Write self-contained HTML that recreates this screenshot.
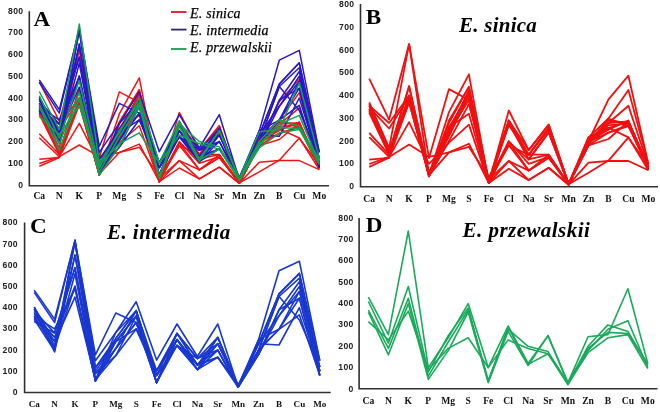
<!DOCTYPE html>
<html><head><meta charset="utf-8"><style>
html,body{margin:0;padding:0;background:#fff;}
body{width:660px;height:412px;overflow:hidden;}
svg{display:block;filter:blur(0.3px);}
.tk{font-family:"Liberation Sans",sans-serif;font-weight:bold;font-size:8.6px;letter-spacing:0.3px;text-anchor:end;fill:#222;}
.cat{font-family:"Liberation Serif",serif;font-weight:bold;font-size:9.6px;text-anchor:middle;fill:#111;}
.let{font-family:"Liberation Serif",serif;font-weight:bold;font-size:21px;fill:#000;}
.ttl{font-family:"Liberation Serif",serif;font-weight:bold;font-style:italic;font-size:21px;letter-spacing:0.45px;fill:#000;}
.ttl1{letter-spacing:0.25px;}
.catc{font-size:9.1px;}
.leg{font-family:"Liberation Serif",serif;font-style:italic;font-size:14px;letter-spacing:0.2px;fill:#000;stroke:#000;stroke-width:0.25px;}
</style></head><body>
<svg width="660" height="412" viewBox="0 0 660 412">
<text class="tk" x="23.3" y="187.5">0</text>
<text class="tk" x="23.3" y="165.8">100</text>
<text class="tk" x="23.3" y="144.0">200</text>
<text class="tk" x="23.3" y="122.2">300</text>
<text class="tk" x="23.3" y="100.5">400</text>
<text class="tk" x="23.3" y="78.8">500</text>
<text class="tk" x="23.3" y="57.0">600</text>
<text class="tk" x="23.3" y="35.2">700</text>
<text class="tk" x="23.3" y="13.5">800</text>
<text class="cat" x="39.3" y="199.4">Ca</text>
<text class="cat" x="59.3" y="199.4">N</text>
<text class="cat" x="79.3" y="199.4">K</text>
<text class="cat" x="99.3" y="199.4">P</text>
<text class="cat" x="119.3" y="199.4">Mg</text>
<text class="cat" x="139.3" y="199.4">S</text>
<text class="cat" x="159.3" y="199.4">Fe</text>
<text class="cat" x="179.3" y="199.4">Cl</text>
<text class="cat" x="199.3" y="199.4">Na</text>
<text class="cat" x="219.3" y="199.4">Sr</text>
<text class="cat" x="239.3" y="199.4">Mn</text>
<text class="cat" x="259.3" y="199.4">Zn</text>
<text class="cat" x="279.3" y="199.4">B</text>
<text class="cat" x="299.3" y="199.4">Cu</text>
<text class="cat" x="319.3" y="199.4">Mo</text>
<polyline fill="none" stroke="#f01414" stroke-width="1.5" stroke-linejoin="round" points="39.3,81.9 59.3,121.1 79.3,48.8 99.3,157.8 119.3,91.9 139.3,102.3 159.3,178.5 179.3,121.9 199.3,154.6 219.3,128.9 239.3,182.0 259.3,141.5 279.3,101.7 299.3,79.1 319.3,163.7"/>
<polyline fill="none" stroke="#f01414" stroke-width="1.5" stroke-linejoin="round" points="39.3,104.5 59.3,148.0 79.3,48.8 99.3,174.1 119.3,113.9 139.3,77.8 159.3,181.7 179.3,112.4 199.3,150.2 219.3,125.8 239.3,182.8 259.3,138.0 279.3,120.0 299.3,92.8 319.3,163.7"/>
<polyline fill="none" stroke="#f01414" stroke-width="1.5" stroke-linejoin="round" points="39.3,106.3 59.3,152.4 79.3,89.1 99.3,175.2 119.3,121.9 139.3,89.7 159.3,181.7 179.3,124.5 199.3,154.6 219.3,128.9 239.3,182.8 259.3,142.4 279.3,124.3 299.3,107.8 319.3,165.4"/>
<polyline fill="none" stroke="#f01414" stroke-width="1.5" stroke-linejoin="round" points="39.3,107.8 59.3,124.3 79.3,98.0 99.3,173.0 119.3,128.4 139.3,97.3 159.3,180.7 179.3,121.9 199.3,159.1 219.3,133.2 239.3,183.3 259.3,143.7 279.3,128.9 299.3,122.8 319.3,165.4"/>
<polyline fill="none" stroke="#f01414" stroke-width="1.5" stroke-linejoin="round" points="39.3,109.3 59.3,129.5 79.3,99.1 99.3,171.9 119.3,132.8 139.3,93.7 159.3,181.7 179.3,124.5 199.3,159.1 219.3,133.2 239.3,183.3 259.3,145.6 279.3,133.5 299.3,126.3 319.3,167.6"/>
<polyline fill="none" stroke="#f01414" stroke-width="1.5" stroke-linejoin="round" points="39.3,111.0 59.3,151.3 79.3,101.3 99.3,174.1 119.3,137.2 139.3,97.3 159.3,181.7 179.3,142.6 199.3,169.8 219.3,154.6 239.3,182.8 259.3,145.6 279.3,139.5 299.3,122.8 319.3,166.5"/>
<polyline fill="none" stroke="#f01414" stroke-width="1.5" stroke-linejoin="round" points="39.3,112.8 59.3,153.5 79.3,104.5 99.3,175.2 119.3,141.5 139.3,106.3 159.3,180.7 179.3,145.6 199.3,169.8 219.3,157.6 239.3,182.8 259.3,142.4 279.3,133.5 299.3,127.4 319.3,167.6"/>
<polyline fill="none" stroke="#f01414" stroke-width="1.5" stroke-linejoin="round" points="39.3,133.7 59.3,154.6 79.3,99.1 99.3,173.0 119.3,128.4 139.3,115.4 159.3,181.7 179.3,142.6 199.3,159.1 219.3,154.6 239.3,183.3 259.3,138.0 279.3,128.9 299.3,138.0 319.3,169.6"/>
<polyline fill="none" stroke="#f01414" stroke-width="1.5" stroke-linejoin="round" points="39.3,137.8 59.3,156.7 79.3,123.4 99.3,163.2 119.3,143.0 139.3,125.8 159.3,181.7 179.3,160.6 199.3,178.9 219.3,167.2 239.3,183.3 259.3,162.2 279.3,160.6 299.3,160.6 319.3,169.6"/>
<polyline fill="none" stroke="#f01414" stroke-width="1.5" stroke-linejoin="round" points="39.3,159.3 59.3,157.6 79.3,98.0 99.3,175.2 119.3,124.1 139.3,89.7 159.3,178.5 179.3,160.6 199.3,169.8 219.3,157.6 239.3,182.8 259.3,171.9 279.3,160.2 299.3,138.0 319.3,165.4"/>
<polyline fill="none" stroke="#f01414" stroke-width="1.5" stroke-linejoin="round" points="39.3,163.5 59.3,156.7 79.3,145.0 99.3,156.7 119.3,152.4 139.3,144.1 159.3,181.7 179.3,168.0 199.3,178.9 219.3,167.2 239.3,183.3 259.3,145.6 279.3,120.0 299.3,127.4 319.3,163.7"/>
<polyline fill="none" stroke="#f01414" stroke-width="1.5" stroke-linejoin="round" points="39.3,166.3 59.3,157.6 79.3,104.5 99.3,174.1 119.3,152.4 139.3,147.2 159.3,176.3 179.3,145.6 199.3,154.6 219.3,154.6 239.3,183.3 259.3,142.4 279.3,124.3 299.3,122.8 319.3,167.6"/>
<polyline fill="none" stroke="#f01414" stroke-width="1.5" stroke-linejoin="round" points="39.3,107.8 59.3,152.4 79.3,89.1 99.3,171.9 119.3,132.8 139.3,102.3 159.3,181.7 179.3,121.9 199.3,150.2 219.3,125.8 239.3,182.8 259.3,141.5 279.3,121.9 299.3,124.1 319.3,166.5"/>
<polyline fill="none" stroke="#f01414" stroke-width="1.5" stroke-linejoin="round" points="39.3,111.0 59.3,152.4 79.3,99.1 99.3,174.1 119.3,130.6 139.3,93.7 159.3,181.7 179.3,126.3 199.3,154.6 219.3,130.6 239.3,182.8 259.3,143.7 279.3,126.3 299.3,125.2 319.3,166.5"/>
<polyline fill="none" stroke="#f01414" stroke-width="1.5" stroke-linejoin="round" points="39.3,114.3 59.3,154.6 79.3,102.3 99.3,175.2 119.3,135.0 139.3,98.0 159.3,180.7 179.3,141.5 199.3,163.2 219.3,156.7 239.3,183.3 259.3,141.5 279.3,130.6 299.3,121.9 319.3,168.7"/>
<polyline fill="none" stroke="#2818c8" stroke-width="1.5" stroke-linejoin="round" points="39.3,79.9 59.3,109.7 79.3,29.5 99.3,146.3 119.3,103.4 139.3,113.2 159.3,162.8 179.3,124.3 199.3,150.2 219.3,135.0 239.3,177.8 259.3,130.6 279.3,60.2 299.3,50.4 319.3,152.4"/>
<polyline fill="none" stroke="#2818c8" stroke-width="1.5" stroke-linejoin="round" points="39.3,82.3 59.3,113.2 79.3,28.4 99.3,152.4 119.3,123.4 139.3,91.9 159.3,151.7 179.3,114.7 199.3,148.0 219.3,114.7 239.3,179.6 259.3,135.0 279.3,83.9 299.3,62.8 319.3,158.9"/>
<polyline fill="none" stroke="#2818c8" stroke-width="1.5" stroke-linejoin="round" points="39.3,97.3 59.3,137.2 79.3,30.6 99.3,159.6 119.3,129.5 139.3,101.0 159.3,167.6 179.3,124.3 199.3,156.7 219.3,128.4 239.3,179.6 259.3,141.5 279.3,86.5 299.3,67.8 319.3,163.2"/>
<polyline fill="none" stroke="#2818c8" stroke-width="1.5" stroke-linejoin="round" points="39.3,99.1 59.3,143.5 79.3,44.1 99.3,163.2 119.3,132.8 139.3,106.5 159.3,175.0 179.3,130.6 199.3,161.5 219.3,135.0 239.3,177.8 259.3,145.8 279.3,100.2 299.3,71.5 319.3,167.6"/>
<polyline fill="none" stroke="#2818c8" stroke-width="1.5" stroke-linejoin="round" points="39.3,100.8 59.3,124.1 79.3,57.1 99.3,165.6 119.3,139.8 139.3,113.2 159.3,175.0 179.3,130.6 199.3,156.7 219.3,141.5 239.3,179.6 259.3,135.0 279.3,106.3 299.3,76.2 319.3,163.2"/>
<polyline fill="none" stroke="#2818c8" stroke-width="1.5" stroke-linejoin="round" points="39.3,102.8 59.3,139.5 79.3,63.2 99.3,171.9 119.3,147.2 139.3,119.8 159.3,167.6 179.3,136.7 199.3,161.5 219.3,148.9 239.3,177.8 259.3,141.5 279.3,120.2 299.3,81.3 319.3,158.9"/>
<polyline fill="none" stroke="#2818c8" stroke-width="1.5" stroke-linejoin="round" points="39.3,104.7 59.3,128.4 79.3,76.0 99.3,173.3 119.3,129.5 139.3,101.0 159.3,162.8 179.3,124.3 199.3,150.2 219.3,128.4 239.3,179.6 259.3,145.8 279.3,100.2 299.3,88.2 319.3,167.6"/>
<polyline fill="none" stroke="#2818c8" stroke-width="1.5" stroke-linejoin="round" points="39.3,106.7 59.3,119.8 79.3,78.4 99.3,173.3 119.3,132.8 139.3,106.5 159.3,175.0 179.3,130.6 199.3,156.7 219.3,135.0 239.3,177.8 259.3,135.0 279.3,136.3 299.3,98.0 319.3,163.2"/>
<polyline fill="none" stroke="#2818c8" stroke-width="1.5" stroke-linejoin="round" points="39.3,108.4 59.3,132.8 79.3,87.1 99.3,171.9 119.3,123.4 139.3,101.0 159.3,167.6 179.3,136.7 199.3,161.5 219.3,141.5 239.3,179.6 259.3,130.6 279.3,120.2 299.3,105.4 319.3,167.6"/>
<polyline fill="none" stroke="#2818c8" stroke-width="1.5" stroke-linejoin="round" points="39.3,110.0 59.3,142.2 79.3,29.5 99.3,173.3 119.3,139.8 139.3,113.2 159.3,175.0 179.3,124.3 199.3,156.7 219.3,148.9 239.3,177.8 259.3,141.5 279.3,86.5 299.3,110.6 319.3,158.9"/>
<polyline fill="none" stroke="#2818c8" stroke-width="1.5" stroke-linejoin="round" points="39.3,112.1 59.3,124.1 79.3,57.1 99.3,165.6 119.3,147.2 139.3,106.5 159.3,167.6 179.3,136.7 199.3,150.2 219.3,141.5 239.3,179.6 259.3,145.8 279.3,106.3 299.3,81.3 319.3,163.2"/>
<polyline fill="none" stroke="#2818c8" stroke-width="1.5" stroke-linejoin="round" points="39.3,97.3 59.3,132.8 79.3,44.1 99.3,159.6 119.3,132.8 139.3,119.8 159.3,162.8 179.3,130.6 199.3,161.5 219.3,128.4 239.3,177.8 259.3,135.0 279.3,83.9 299.3,62.8 319.3,152.4"/>
<polyline fill="none" stroke="#2818c8" stroke-width="1.5" stroke-linejoin="round" points="39.3,106.7 59.3,139.5 79.3,76.0 99.3,171.9 119.3,139.8 139.3,101.0 159.3,175.0 179.3,136.7 199.3,156.7 219.3,148.9 239.3,179.6 259.3,141.5 279.3,120.2 299.3,88.2 319.3,167.6"/>
<polyline fill="none" stroke="#16a050" stroke-width="1.5" stroke-linejoin="round" points="39.3,91.5 59.3,129.5 79.3,24.1 99.3,163.2 119.3,132.8 139.3,98.0 159.3,163.2 179.3,120.8 199.3,158.9 219.3,130.6 239.3,178.5 259.3,131.7 279.3,129.5 299.3,82.8 319.3,158.9"/>
<polyline fill="none" stroke="#16a050" stroke-width="1.5" stroke-linejoin="round" points="39.3,95.8 59.3,138.2 79.3,80.6 99.3,167.6 119.3,130.6 139.3,102.3 159.3,176.3 179.3,124.1 199.3,141.5 219.3,146.9 239.3,179.6 259.3,141.5 279.3,119.8 299.3,126.3 319.3,161.1"/>
<polyline fill="none" stroke="#16a050" stroke-width="1.5" stroke-linejoin="round" points="39.3,104.5 59.3,143.7 79.3,92.6 99.3,171.9 119.3,137.2 139.3,104.5 159.3,177.4 179.3,121.9 199.3,160.0 219.3,149.1 239.3,180.7 259.3,145.8 279.3,124.1 299.3,115.4 319.3,163.2"/>
<polyline fill="none" stroke="#16a050" stroke-width="1.5" stroke-linejoin="round" points="39.3,106.7 59.3,150.2 79.3,98.0 99.3,175.2 119.3,145.8 139.3,106.7 159.3,178.5 179.3,126.3 199.3,161.1 219.3,130.6 239.3,179.6 259.3,148.0 279.3,132.8 299.3,129.5 319.3,164.3"/>
<polyline fill="none" stroke="#16a050" stroke-width="1.5" stroke-linejoin="round" points="39.3,116.5 59.3,135.0 79.3,105.6 99.3,165.4 119.3,143.7 139.3,132.8 159.3,163.2 179.3,135.0 199.3,143.7 219.3,149.1 239.3,178.5 259.3,143.7 279.3,127.4 299.3,128.4 319.3,158.9"/>
<path d="M29.3,11.2 V185.8 H329.0" fill="none" stroke="#303030" stroke-width="1.6"/>
<text class="let" transform="translate(33.6,26.2) scale(1.1,1)">A</text>
<text class="tk" x="354.3" y="189.0">0</text>
<text class="tk" x="354.3" y="166.2">100</text>
<text class="tk" x="354.3" y="143.5">200</text>
<text class="tk" x="354.3" y="120.8">300</text>
<text class="tk" x="354.3" y="98.0">400</text>
<text class="tk" x="354.3" y="75.2">500</text>
<text class="tk" x="354.3" y="52.5">600</text>
<text class="tk" x="354.3" y="29.8">700</text>
<text class="tk" x="354.3" y="7.0">800</text>
<text class="cat" x="369.2" y="201.9">Ca</text>
<text class="cat" x="389.1" y="201.9">N</text>
<text class="cat" x="409.1" y="201.9">K</text>
<text class="cat" x="429.0" y="201.9">P</text>
<text class="cat" x="449.0" y="201.9">Mg</text>
<text class="cat" x="468.9" y="201.9">S</text>
<text class="cat" x="488.8" y="201.9">Fe</text>
<text class="cat" x="508.8" y="201.9">Cl</text>
<text class="cat" x="528.7" y="201.9">Na</text>
<text class="cat" x="548.7" y="201.9">Sr</text>
<text class="cat" x="568.6" y="201.9">Mn</text>
<text class="cat" x="588.5" y="201.9">Zn</text>
<text class="cat" x="608.5" y="201.9">B</text>
<text class="cat" x="628.4" y="201.9">Cu</text>
<text class="cat" x="648.4" y="201.9">Mo</text>
<polyline fill="none" stroke="#f01010" stroke-width="1.8" stroke-linejoin="round" points="369.2,78.7 389.1,119.6 409.1,44.1 429.0,158.1 449.0,89.1 468.9,100.0 488.8,179.7 508.8,120.5 528.7,154.7 548.7,127.8 568.6,183.3 588.5,141.0 608.5,99.4 628.4,75.7 648.4,164.2"/>
<polyline fill="none" stroke="#f01010" stroke-width="1.8" stroke-linejoin="round" points="369.2,102.3 389.1,147.8 409.1,44.1 429.0,175.1 449.0,112.1 468.9,74.3 488.8,183.1 508.8,110.5 528.7,150.1 548.7,124.6 568.6,184.2 588.5,137.4 608.5,118.5 628.4,90.0 648.4,164.2"/>
<polyline fill="none" stroke="#f01010" stroke-width="1.8" stroke-linejoin="round" points="369.2,104.1 389.1,152.4 409.1,86.2 429.0,176.3 449.0,120.5 468.9,86.9 488.8,183.1 508.8,123.3 528.7,154.7 548.7,127.8 568.6,184.2 588.5,141.9 608.5,123.0 628.4,105.7 648.4,166.0"/>
<polyline fill="none" stroke="#f01010" stroke-width="1.8" stroke-linejoin="round" points="369.2,105.7 389.1,123.0 409.1,95.5 429.0,174.0 449.0,127.3 468.9,94.8 488.8,181.9 508.8,120.5 528.7,159.4 548.7,132.4 568.6,184.7 588.5,143.3 608.5,127.8 628.4,121.4 648.4,166.0"/>
<polyline fill="none" stroke="#f01010" stroke-width="1.8" stroke-linejoin="round" points="369.2,107.3 389.1,128.5 409.1,96.6 429.0,172.8 449.0,131.9 468.9,91.0 488.8,183.1 508.8,123.3 528.7,159.4 548.7,132.4 568.6,184.7 588.5,145.3 608.5,132.6 628.4,125.1 648.4,168.3"/>
<polyline fill="none" stroke="#f01010" stroke-width="1.8" stroke-linejoin="round" points="369.2,109.1 389.1,151.2 409.1,98.9 429.0,175.1 449.0,136.4 468.9,94.8 488.8,183.1 508.8,142.1 528.7,170.6 548.7,154.7 568.6,184.2 588.5,145.3 608.5,139.0 628.4,121.4 648.4,167.2"/>
<polyline fill="none" stroke="#f01010" stroke-width="1.8" stroke-linejoin="round" points="369.2,111.0 389.1,153.5 409.1,102.3 429.0,176.3 449.0,141.0 468.9,104.1 488.8,181.9 508.8,145.3 528.7,170.6 548.7,157.8 568.6,184.2 588.5,141.9 608.5,132.6 628.4,126.2 648.4,168.3"/>
<polyline fill="none" stroke="#f01010" stroke-width="1.8" stroke-linejoin="round" points="369.2,132.8 389.1,154.7 409.1,96.6 429.0,174.0 449.0,127.3 468.9,113.7 488.8,183.1 508.8,142.1 528.7,159.4 548.7,154.7 568.6,184.7 588.5,137.4 608.5,127.8 628.4,137.4 648.4,170.3"/>
<polyline fill="none" stroke="#f01010" stroke-width="1.8" stroke-linejoin="round" points="369.2,137.1 389.1,156.9 409.1,122.1 429.0,163.8 449.0,142.6 468.9,124.6 488.8,183.1 508.8,161.0 528.7,180.1 548.7,167.8 568.6,184.7 588.5,162.6 608.5,161.0 628.4,161.0 648.4,170.3"/>
<polyline fill="none" stroke="#f01010" stroke-width="1.8" stroke-linejoin="round" points="369.2,159.7 389.1,157.8 409.1,95.5 429.0,176.3 449.0,122.8 468.9,86.9 488.8,179.7 508.8,161.0 528.7,170.6 548.7,157.8 568.6,184.2 588.5,172.8 608.5,160.6 628.4,137.4 648.4,166.0"/>
<polyline fill="none" stroke="#f01010" stroke-width="1.8" stroke-linejoin="round" points="369.2,164.0 389.1,156.9 409.1,144.6 429.0,156.9 449.0,152.4 468.9,143.7 488.8,183.1 508.8,168.8 528.7,180.1 548.7,167.8 568.6,184.7 588.5,145.3 608.5,118.5 628.4,126.2 648.4,164.2"/>
<polyline fill="none" stroke="#f01010" stroke-width="1.8" stroke-linejoin="round" points="369.2,166.9 389.1,157.8 409.1,102.3 429.0,175.1 449.0,152.4 468.9,146.9 488.8,177.4 508.8,145.3 528.7,154.7 548.7,154.7 568.6,184.7 588.5,141.9 608.5,123.0 628.4,121.4 648.4,168.3"/>
<polyline fill="none" stroke="#f01010" stroke-width="1.8" stroke-linejoin="round" points="369.2,105.7 389.1,152.4 409.1,86.2 429.0,172.8 449.0,131.9 468.9,100.0 488.8,183.1 508.8,120.5 528.7,150.1 548.7,124.6 568.6,184.2 588.5,141.0 608.5,120.5 628.4,122.8 648.4,167.2"/>
<polyline fill="none" stroke="#f01010" stroke-width="1.8" stroke-linejoin="round" points="369.2,109.1 389.1,152.4 409.1,96.6 429.0,175.1 449.0,129.6 468.9,91.0 488.8,183.1 508.8,125.1 528.7,154.7 548.7,129.6 568.6,184.2 588.5,143.3 608.5,125.1 628.4,123.9 648.4,167.2"/>
<polyline fill="none" stroke="#f01010" stroke-width="1.8" stroke-linejoin="round" points="369.2,112.6 389.1,154.7 409.1,100.0 429.0,176.3 449.0,134.2 468.9,95.5 488.8,181.9 508.8,141.0 528.7,163.8 548.7,156.9 568.6,184.7 588.5,141.0 608.5,129.6 628.4,120.5 648.4,169.4"/>
<path d="M360.5,4.0 V186.8 H658.0" fill="none" stroke="#303030" stroke-width="1.6"/>
<text class="let" transform="translate(365.8,23.8) scale(1.1,1)">B</text>
<text class="ttl ttl1" x="459" y="31.9">E. sinica</text>
<text class="tk" x="17.8" y="395.0">0</text>
<text class="tk" x="17.8" y="373.8">100</text>
<text class="tk" x="17.8" y="352.6">200</text>
<text class="tk" x="17.8" y="331.4">300</text>
<text class="tk" x="17.8" y="310.2">400</text>
<text class="tk" x="17.8" y="289.0">500</text>
<text class="tk" x="17.8" y="267.8">600</text>
<text class="tk" x="17.8" y="246.6">700</text>
<text class="tk" x="17.8" y="225.4">800</text>
<text class="cat catc" x="34.2" y="406.9">Ca</text>
<text class="cat catc" x="54.6" y="406.9">N</text>
<text class="cat catc" x="75.0" y="406.9">K</text>
<text class="cat catc" x="95.4" y="406.9">P</text>
<text class="cat catc" x="115.8" y="406.9">Mg</text>
<text class="cat catc" x="136.2" y="406.9">S</text>
<text class="cat catc" x="156.6" y="406.9">Fe</text>
<text class="cat catc" x="177.0" y="406.9">Cl</text>
<text class="cat catc" x="197.4" y="406.9">Na</text>
<text class="cat catc" x="217.8" y="406.9">Sr</text>
<text class="cat catc" x="238.2" y="406.9">Mn</text>
<text class="cat catc" x="258.6" y="406.9">Zn</text>
<text class="cat catc" x="279.0" y="406.9">B</text>
<text class="cat catc" x="299.4" y="406.9">Cu</text>
<text class="cat catc" x="319.8" y="406.9">Mo</text>
<polyline fill="none" stroke="#1838d0" stroke-width="1.6" stroke-linejoin="round" points="34.2,290.1 54.6,319.1 75.0,240.9 95.4,354.8 115.8,313.0 136.2,322.5 156.6,370.9 177.0,333.4 197.4,358.6 217.8,343.7 238.2,385.5 258.6,339.5 279.0,270.8 299.4,261.3 319.8,360.7"/>
<polyline fill="none" stroke="#1838d0" stroke-width="1.6" stroke-linejoin="round" points="34.2,292.4 54.6,322.5 75.0,239.9 95.4,360.7 115.8,332.5 136.2,301.8 156.6,360.1 177.0,324.0 197.4,356.5 217.8,324.0 238.2,387.2 258.6,343.7 279.0,293.9 299.4,273.4 319.8,367.1"/>
<polyline fill="none" stroke="#1838d0" stroke-width="1.6" stroke-linejoin="round" points="34.2,307.1 54.6,345.9 75.0,242.0 95.4,367.7 115.8,338.4 136.2,310.7 156.6,375.5 177.0,333.4 197.4,364.9 217.8,337.4 238.2,387.2 258.6,350.1 279.0,296.5 299.4,278.2 319.8,371.3"/>
<polyline fill="none" stroke="#1838d0" stroke-width="1.6" stroke-linejoin="round" points="34.2,308.8 54.6,352.0 75.0,255.1 95.4,371.3 115.8,341.6 136.2,316.0 156.6,382.7 177.0,339.5 197.4,369.6 217.8,343.7 238.2,385.5 258.6,354.3 279.0,309.8 299.4,281.8 319.8,375.5"/>
<polyline fill="none" stroke="#1838d0" stroke-width="1.6" stroke-linejoin="round" points="34.2,310.5 54.6,333.1 75.0,267.8 95.4,373.6 115.8,348.4 136.2,322.5 156.6,382.7 177.0,339.5 197.4,364.9 217.8,350.1 238.2,387.2 258.6,343.7 279.0,315.8 299.4,286.5 319.8,371.3"/>
<polyline fill="none" stroke="#1838d0" stroke-width="1.6" stroke-linejoin="round" points="34.2,312.4 54.6,348.2 75.0,273.8 95.4,379.8 115.8,355.6 136.2,328.9 156.6,375.5 177.0,345.4 197.4,369.6 217.8,357.3 238.2,385.5 258.6,350.1 279.0,329.3 299.4,291.4 319.8,367.1"/>
<polyline fill="none" stroke="#1838d0" stroke-width="1.6" stroke-linejoin="round" points="34.2,314.3 54.6,337.4 75.0,286.3 95.4,381.1 115.8,338.4 136.2,310.7 156.6,370.9 177.0,333.4 197.4,358.6 217.8,337.4 238.2,387.2 258.6,354.3 279.0,309.8 299.4,298.2 319.8,375.5"/>
<polyline fill="none" stroke="#1838d0" stroke-width="1.6" stroke-linejoin="round" points="34.2,316.2 54.6,328.9 75.0,288.6 95.4,381.1 115.8,341.6 136.2,316.0 156.6,382.7 177.0,339.5 197.4,364.9 217.8,343.7 238.2,385.5 258.6,343.7 279.0,345.0 299.4,307.7 319.8,371.3"/>
<polyline fill="none" stroke="#1838d0" stroke-width="1.6" stroke-linejoin="round" points="34.2,317.9 54.6,341.6 75.0,297.1 95.4,379.8 115.8,332.5 136.2,310.7 156.6,375.5 177.0,345.4 197.4,369.6 217.8,350.1 238.2,387.2 258.6,339.5 279.0,329.3 299.4,314.9 319.8,375.5"/>
<polyline fill="none" stroke="#1838d0" stroke-width="1.6" stroke-linejoin="round" points="34.2,319.4 54.6,350.7 75.0,240.9 95.4,381.1 115.8,348.4 136.2,322.5 156.6,382.7 177.0,333.4 197.4,364.9 217.8,357.3 238.2,385.5 258.6,350.1 279.0,296.5 299.4,320.0 319.8,367.1"/>
<polyline fill="none" stroke="#1838d0" stroke-width="1.6" stroke-linejoin="round" points="34.2,321.5 54.6,333.1 75.0,267.8 95.4,373.6 115.8,355.6 136.2,316.0 156.6,375.5 177.0,345.4 197.4,358.6 217.8,350.1 238.2,387.2 258.6,354.3 279.0,315.8 299.4,291.4 319.8,371.3"/>
<polyline fill="none" stroke="#1838d0" stroke-width="1.6" stroke-linejoin="round" points="34.2,307.1 54.6,341.6 75.0,255.1 95.4,367.7 115.8,341.6 136.2,328.9 156.6,370.9 177.0,339.5 197.4,369.6 217.8,337.4 238.2,385.5 258.6,343.7 279.0,293.9 299.4,273.4 319.8,360.7"/>
<polyline fill="none" stroke="#1838d0" stroke-width="1.6" stroke-linejoin="round" points="34.2,316.2 54.6,348.2 75.0,286.3 95.4,379.8 115.8,348.4 136.2,310.7 156.6,382.7 177.0,345.4 197.4,364.9 217.8,357.3 238.2,387.2 258.6,350.1 279.0,329.3 299.4,298.2 319.8,375.5"/>
<path d="M24.6,222.4 V392.5 H330.7" fill="none" stroke="#303030" stroke-width="1.6"/>
<text class="let" transform="translate(30.0,232.6) scale(1.1,1)">C</text>
<text class="ttl" x="107" y="238.5">E. intermedia</text>
<text class="tk" x="353.6" y="391.5">0</text>
<text class="tk" x="353.6" y="370.1">100</text>
<text class="tk" x="353.6" y="348.8">200</text>
<text class="tk" x="353.6" y="327.4">300</text>
<text class="tk" x="353.6" y="306.1">400</text>
<text class="tk" x="353.6" y="284.8">500</text>
<text class="tk" x="353.6" y="263.4">600</text>
<text class="tk" x="353.6" y="242.1">700</text>
<text class="tk" x="353.6" y="220.7">800</text>
<text class="cat" x="368.4" y="403.9">Ca</text>
<text class="cat" x="388.4" y="403.9">N</text>
<text class="cat" x="408.3" y="403.9">K</text>
<text class="cat" x="428.3" y="403.9">P</text>
<text class="cat" x="448.2" y="403.9">Mg</text>
<text class="cat" x="468.2" y="403.9">S</text>
<text class="cat" x="488.2" y="403.9">Fe</text>
<text class="cat" x="508.1" y="403.9">Cl</text>
<text class="cat" x="528.1" y="403.9">Na</text>
<text class="cat" x="548.0" y="403.9">Sr</text>
<text class="cat" x="568.0" y="403.9">Mn</text>
<text class="cat" x="588.0" y="403.9">Zn</text>
<text class="cat" x="607.9" y="403.9">B</text>
<text class="cat" x="627.9" y="403.9">Cu</text>
<text class="cat" x="647.8" y="403.9">Mo</text>
<polyline fill="none" stroke="#1aaa5a" stroke-width="1.6" stroke-linejoin="round" points="368.4,297.2 388.4,334.6 408.3,231.0 428.3,367.6 448.2,337.8 468.2,303.6 488.2,367.6 508.1,326.0 528.1,363.4 548.0,335.6 568.0,382.6 588.0,336.7 607.9,334.6 627.9,288.7 647.8,363.4"/>
<polyline fill="none" stroke="#1aaa5a" stroke-width="1.6" stroke-linejoin="round" points="368.4,301.5 388.4,343.1 408.3,286.5 428.3,371.9 448.2,335.6 468.2,307.9 488.2,380.5 508.1,329.2 528.1,346.3 548.0,351.6 568.0,383.7 588.0,346.3 607.9,324.9 627.9,331.4 647.8,365.5"/>
<polyline fill="none" stroke="#1aaa5a" stroke-width="1.6" stroke-linejoin="round" points="368.4,310.0 388.4,348.4 408.3,298.3 428.3,376.2 448.2,342.0 468.2,310.0 488.2,381.5 508.1,327.1 528.1,364.4 548.0,353.8 568.0,384.7 588.0,350.6 607.9,329.2 627.9,320.7 647.8,367.6"/>
<polyline fill="none" stroke="#1aaa5a" stroke-width="1.6" stroke-linejoin="round" points="368.4,312.1 388.4,354.8 408.3,303.6 428.3,379.4 448.2,350.6 468.2,312.1 488.2,382.6 508.1,331.4 528.1,365.5 548.0,335.6 568.0,383.7 588.0,352.7 607.9,337.8 627.9,334.6 647.8,368.7"/>
<polyline fill="none" stroke="#1aaa5a" stroke-width="1.6" stroke-linejoin="round" points="368.4,321.7 388.4,339.9 408.3,311.1 428.3,369.8 448.2,348.4 468.2,337.8 488.2,367.6 508.1,339.9 528.1,348.4 548.0,353.8 568.0,382.6 588.0,348.4 607.9,332.4 627.9,333.5 647.8,363.4"/>
<path d="M359.1,218.0 V388.8 H657.5" fill="none" stroke="#303030" stroke-width="1.6"/>
<text class="let" transform="translate(365.8,231.6) scale(1.1,1)">D</text>
<text class="ttl" x="462.6" y="237.3">E. przewalskii</text>
<line x1="171" y1="12.0" x2="186.5" y2="12.0" stroke="#e01020" stroke-width="1.8"/>
<text class="leg" x="190" y="17.9">E. sinica</text>
<line x1="171" y1="29.6" x2="186.5" y2="29.6" stroke="#2a2a70" stroke-width="1.8"/>
<text class="leg" x="190" y="35.0">E. intermedia</text>
<line x1="171" y1="49.0" x2="186.5" y2="49.0" stroke="#1a9a50" stroke-width="1.8"/>
<text class="leg" x="190" y="51.8">E. przewalskii</text>
</svg>
</body></html>
